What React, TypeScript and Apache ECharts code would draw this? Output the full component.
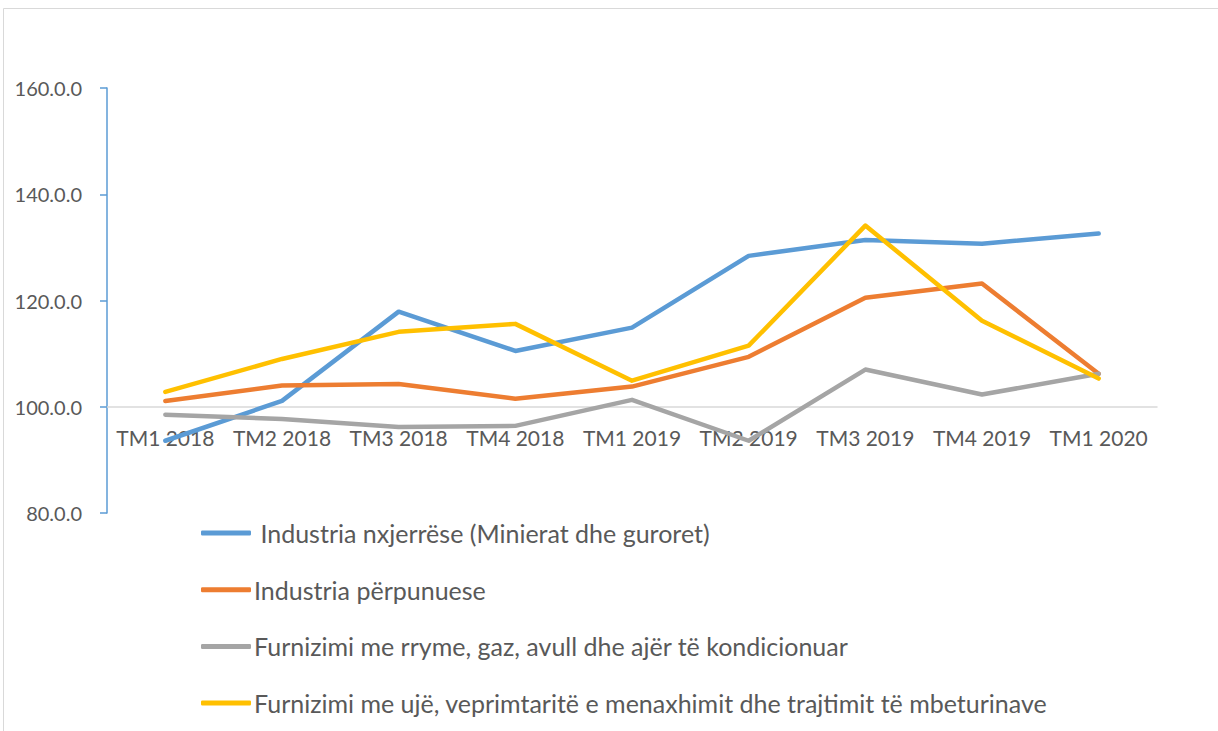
import React, { useEffect, useRef } from "react";
import * as echarts from "echarts";

const categories = ["TM1 2018", "TM2 2018", "TM3 2018", "TM4 2018", "TM1 2019", "TM2 2019", "TM3 2019", "TM4 2019", "TM1 2020"];
const seriesNames = [
  " Industria nxjerrëse (Minierat dhe guroret)",
  "Industria përpunuese",
  "Furnizimi me rryme, gaz, avull dhe ajër të kondicionuar",
  "Furnizimi me ujë, veprimtaritë e menaxhimit dhe trajtimit të mbeturinave",
];
const mining = [93.6, 101.1, 117.9, 110.5, 114.9, 128.4, 131.4, 130.7, 132.6];
const manufacturing = [101.1, 104.0, 104.3, 101.5, 103.8, 109.4, 120.5, 123.2, 106.2];
const energy = [98.5, 97.7, 96.2, 96.4, 101.3, 93.6, 107.0, 102.3, 106.2];
const water = [102.8, 109.0, 114.1, 115.6, 104.9, 111.5, 134.1, 116.2, 105.3];
const colors = ["#5B9BD5", "#ED7D31", "#A5A5A5", "#FFC000"];
const baseline = 100;
const yMin = 80;
const yMax = 160;
const yStep = 20;

const FONT = 'Lato, "Noto Sans", sans-serif';

export default function App() {
  const ref = useRef<HTMLDivElement>(null);
  useEffect(() => {
    if (!ref.current) return;
    const chart = echarts.init(ref.current, undefined, { renderer: "svg" });
    const all = [mining, manufacturing, energy, water];
    const gridTop = 88;
    const gridBottom = 218;
    const gridHeight = 731 - gridTop - gridBottom;
    const xOffset = -((baseline - yMin) / (yMax - yMin)) * gridHeight;
    chart.setOption({
      animation: false,
      backgroundColor: "#ffffff",
      grid: { left: 107, right: 61, top: gridTop, bottom: gridBottom, containLabel: false },
      graphic: [
        {
          type: "rect",
          shape: { x: 3.5, y: 8.5, width: 1230, height: 740 },
          style: { fill: "none", stroke: "#D9D9D9", lineWidth: 1 },
          silent: true,
        },
      ],
      xAxis: {
        type: "category",
        data: categories,
        boundaryGap: true,
        offset: xOffset,
        axisLine: { onZero: false, lineStyle: { color: "#D9D9D9", width: 1.5 } },
        axisTick: { show: false },
        axisLabel: { color: "#595959", fontSize: 21, fontFamily: FONT, margin: 20, interval: 0 },
        splitLine: { show: false },
      },
      yAxis: {
        type: "value",
        min: yMin,
        max: yMax,
        interval: yStep,
        axisLine: { show: true, lineStyle: { color: "#5B9BD5", width: 1.5 } },
        axisTick: { show: true, inside: false, length: 7, lineStyle: { color: "#5B9BD5", width: 1.5 } },
        axisLabel: {
          color: "#595959",
          fontSize: 20,
          fontFamily: FONT,
          margin: 25,
          formatter: (v: number) => v.toFixed(1) + ".0",
        },
        splitLine: { show: false },
      },
      legend: {
        orient: "vertical",
        left: 196,
        top: 514,
        itemWidth: 50,
        itemHeight: 5,
        itemGap: 28.7,
        data: seriesNames.map((n, i) => ({ name: n, icon: "roundRect", itemStyle: { color: colors[i] } })),
        textStyle: { color: "#595959", fontSize: 25, lineHeight: 28, fontFamily: FONT, padding: [0, 0, 0, -2] },
      },
      series: all.map((vals, i) => ({
        name: seriesNames[i],
        type: "line",
        data: vals,
        symbol: "none",
        color: colors[i],
        lineStyle: { color: colors[i], width: 4.5, cap: "round", join: "round" },
        itemStyle: { color: colors[i] },
      })),
    });
    return () => chart.dispose();
  }, []);
  return (
    <div
      ref={ref}
      style={{ position: "fixed", left: 0, top: 0, width: 1218, height: 731, background: "#fff" }}
    />
  );
}
